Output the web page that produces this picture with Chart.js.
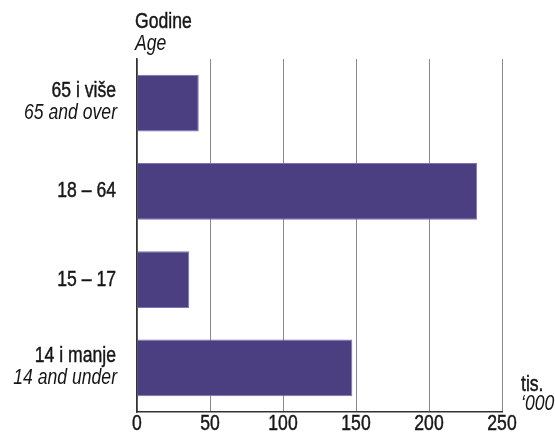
<!DOCTYPE html>
<html>
<head>
<meta charset="utf-8">
<script src="https://cdn.jsdelivr.net/npm/chart.js@4.4.1/dist/chart.umd.min.js"></script>
<style>
  html, body { margin: 0; padding: 0; background: #fff; }
  #wrap { width: 555px; height: 439px; position: relative; }
</style>
</head>
<body>
<div id="wrap"><canvas id="chart"></canvas></div>
<script>
const labelsLocal = ["65 i više", "18 – 64", "15 – 17", "14 i manje"];
const labelsEnglish = ["65 and over", "", "", "14 and under"];
const values = [42.3, 233, 35.8, 147.5];
const xTicks = [0, 50, 100, 150, 200, 250];

const FONT = "'Liberation Sans', Arial, sans-serif";
const SIZE = 22;
const SQUEEZE = 0.8; // narrow look of the original type
const barColor = '#4b3f82';
const textColor = '#161616';

// condensed text helper; upright text gets a hair of stroke for a medium weight
function txt(ctx, s, x, y, align, italic) {
  ctx.save();
  ctx.font = (italic ? 'italic ' : '') + SIZE + 'px ' + FONT;
  ctx.textAlign = align;
  ctx.textBaseline = 'middle';
  ctx.fillStyle = textColor;
  ctx.strokeStyle = textColor;
  ctx.translate(x, y);
  ctx.scale(SQUEEZE, 1);
  ctx.fillText(s, 0, 0);
  if (!italic) {
    ctx.lineWidth = 0.45;
    ctx.strokeText(s, 0, 0);
  }
  ctx.restore();
}

const labelPlugin = {
  id: 'labelPlugin',
  afterDraw(chart) {
    const ctx = chart.ctx;
    const y = chart.scales.y;
    const x = chart.scales.x;
    const area = chart.chartArea;
    labelsLocal.forEach((lab, i) => {
      const cy = y.getPixelForValue(i);
      const en = labelsEnglish[i];
      if (en) {
        txt(ctx, lab, area.left - 21, cy - 12, 'right', false);
        txt(ctx, en, area.left - 20, cy + 10, 'right', true);
      } else {
        txt(ctx, lab, area.left - 21, cy, 'right', false);
      }
    });
    xTicks.forEach(v => {
      txt(ctx, String(v), x.getPixelForValue(v), area.bottom + 12, 'center', false);
    });
    txt(ctx, 'Godine', area.left - 2, 22, 'left', false);
    txt(ctx, 'Age', area.left - 2, 44, 'left', true);
    txt(ctx, 'tis.', area.right + 19, 385, 'left', false);
    txt(ctx, '\u2018000', area.right + 19, 404, 'left', true);
  }
};

new Chart(document.getElementById('chart'), {
  type: 'bar',
  data: {
    labels: labelsLocal,
    datasets: [{
      data: values,
      backgroundColor: barColor,
      borderColor: '#7d73b3',
      borderWidth: 1,
      barPercentage: 0.645,
      categoryPercentage: 1
    }]
  },
  options: {
    indexAxis: 'y',
    responsive: true,
    maintainAspectRatio: false,
    animation: false,
    layout: { padding: { top: 59, right: 53, left: 0, bottom: 0 } },
    plugins: {
      legend: { display: false },
      tooltip: { enabled: false }
    },
    scales: {
      x: {
        min: 0,
        max: 250,
        afterBuildTicks: s => { s.ticks = xTicks.map(v => ({ value: v })); },
        afterFit: s => { s.height = 27; },
        grid: { color: '#8a8a8a', lineWidth: 1, drawTicks: false },
        border: { display: true, color: '#333', width: 1.5 },
        ticks: { display: false }
      },
      y: {
        afterFit: s => { s.width = 137; },
        grid: { display: false },
        border: { display: true, color: '#333', width: 1.5 },
        ticks: { display: false }
      }
    }
  },
  plugins: [labelPlugin]
});
</script>
</body>
</html>
